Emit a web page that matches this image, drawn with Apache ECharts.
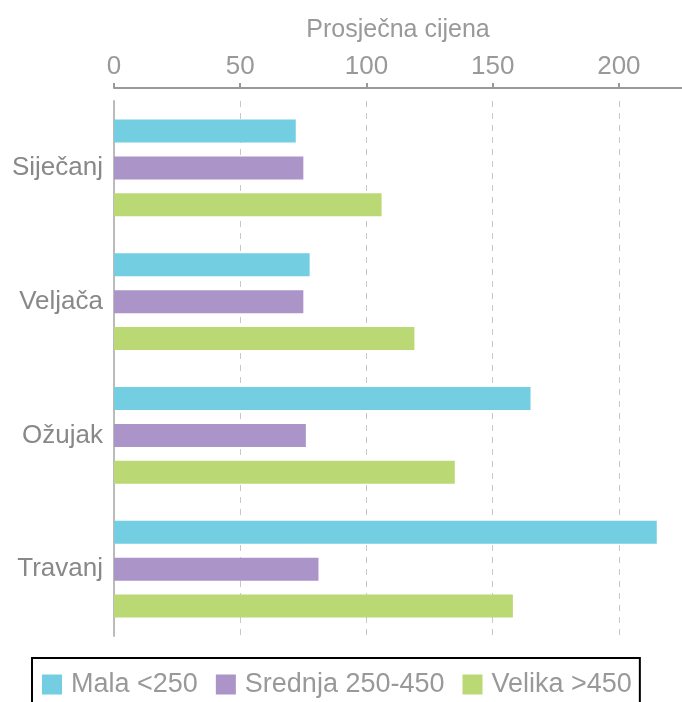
<!DOCTYPE html>
<html>
<head>
<meta charset="utf-8">
<style>
  html, body { margin: 0; padding: 0; background: #fff; }
  #chart { width: 682px; height: 702px; }
</style>
<script src="https://cdn.jsdelivr.net/npm/echarts@6/dist/echarts.min.js"></script>
</head>
<body>
<div id="chart"></div>
<script>
var categories = ['Siječanj', 'Veljača', 'Ožujak', 'Travanj'];
var seriesNames = ['Mala <250', 'Srednja 250-450', 'Velika >450'];
var malaValues = [72, 77.5, 165, 215];
var srednjaValues = [75, 75, 76, 81];
var velikaValues = [106, 119, 135, 158];
var colors = ['#72CEE0', '#AA94C8', '#BAD874'];

var chart = echarts.init(document.getElementById('chart'));
var font = 'Liberation Sans, Arial, sans-serif';

function makeBar(name, data, color) {
    return {
        name: name,
        type: 'bar',
        data: data,
        barWidth: 23,
        barGap: '60%',
        itemStyle: { color: color },
        silent: true
    };
}

chart.setOption({
    animation: false,
    textStyle: { fontFamily: font },
    grid: { left: 114, right: 0, top: 101, height: 535 },
    xAxis: {
        type: 'value',
        position: 'top',
        offset: 13,
        min: 0,
        max: 225,
        interval: 50,
        name: 'Prosječna cijena',
        nameLocation: 'middle',
        nameGap: 45,
        nameTextStyle: { color: '#999', fontSize: 25, fontFamily: font },
        axisLine: { show: true, lineStyle: { color: '#999', width: 2 } },
        axisTick: { show: true, length: 5, lineStyle: { color: '#999', width: 2 } },
        axisLabel: { color: '#999', fontSize: 26, margin: 8, showMaxLabel: false, fontFamily: font },
        splitLine: { show: true, lineStyle: { color: '#c8c8c8', type: [6, 6], width: 1 } }
    },
    yAxis: {
        type: 'category',
        data: categories,
        inverse: true,
        axisLine: { show: true, lineStyle: { color: '#bbb', width: 2 } },
        axisTick: { show: false },
        axisLabel: { color: '#888', fontSize: 26, margin: 11, fontFamily: font }
    },
    legend: {
        data: seriesNames,
        left: 32,
        top: 658,
        padding: [13, 8, 20, 10],
        borderColor: '#000',
        borderWidth: 2,
        itemWidth: 20,
        itemHeight: 20,
        itemGap: 18,
        icon: 'rect',
        textStyle: { color: '#999', fontSize: 27, fontFamily: font, padding: [0, 0, 0, 4] }
    },
    series: [
        makeBar(seriesNames[0], malaValues, colors[0]),
        makeBar(seriesNames[1], srednjaValues, colors[1]),
        makeBar(seriesNames[2], velikaValues, colors[2])
    ]
});
</script>
</body>
</html>
